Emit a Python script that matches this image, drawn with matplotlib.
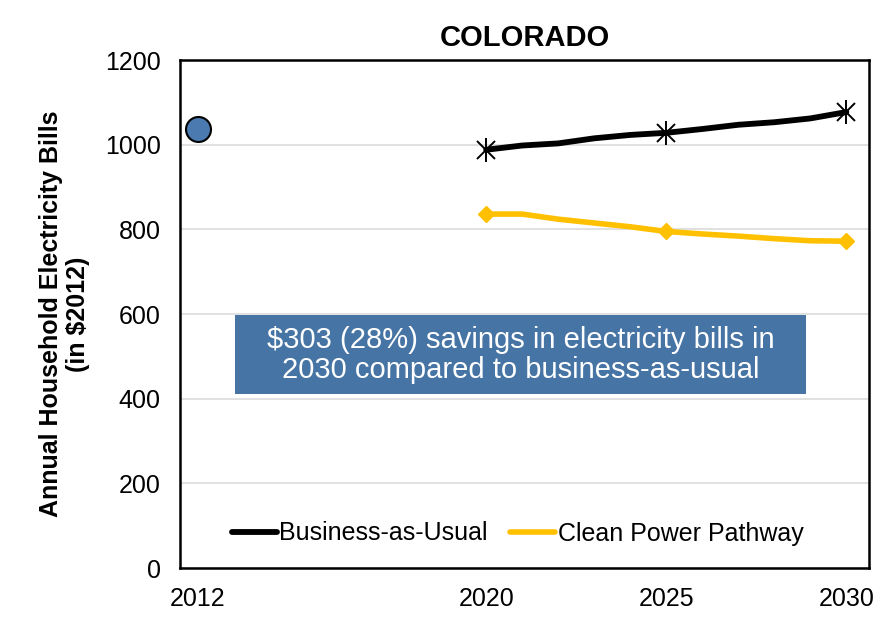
#!/usr/bin/env python3
"""Colorado household electricity bills: business-as-usual vs clean power pathway."""
import matplotlib
matplotlib.use("Agg")
import matplotlib.pyplot as plt
from matplotlib.patches import Rectangle

plt.rcParams["font.family"] = ["Liberation Sans", "DejaVu Sans"]

years = [2020, 2021, 2022, 2023, 2024, 2025, 2026, 2027, 2028, 2029, 2030]
bau = [988, 998, 1003, 1015, 1023, 1028, 1037, 1047, 1053, 1062, 1077]
clean = [836, 836, 824, 815, 806, 795, 789, 784, 778, 773, 772]
marker_years = [2020, 2025, 2030]
year_2012 = 2012
bill_2012 = 1037
xticks = [2012, 2020, 2025, 2030]

fig = plt.figure(figsize=(8.93, 6.25), dpi=100)
ax = fig.add_axes([0.2016, 0.0912, 0.772, 0.8128])

ax.yaxis.grid(True, color="#dcdcdc", linewidth=1.2, zorder=0)
ax.set_axisbelow(True)

ax.plot(years, bau, color="black", linewidth=4.2, solid_capstyle="round", zorder=3,
        label="Business-as-Usual")
ax.plot(years, clean, color="#FFC000", linewidth=4.0, solid_capstyle="round", zorder=3,
        label="Clean Power Pathway")

mb = [bau[years.index(y)] for y in marker_years]
mc = [clean[years.index(y)] for y in marker_years]
ax.plot(marker_years, mb, linestyle="none", marker="x", markersize=13,
        markeredgewidth=1.4, color="black", zorder=4)
ax.plot(marker_years, mb, linestyle="none", marker="|", markersize=17,
        markeredgewidth=1.4, color="black", zorder=4)
ax.plot(marker_years, mc, linestyle="none", marker="D", markersize=8.5,
        color="#FFC000", zorder=4)

ax.plot([year_2012], [bill_2012], linestyle="none", marker="o", markersize=18,
        markerfacecolor="#4a7ab0", markeredgecolor="black", markeredgewidth=1.5, zorder=4)

ax.set_xlim(2011.5, 2030.64)
ax.set_ylim(0, 1200)
ax.set_xticks(xticks)
ax.set_yticks(range(0, 1201, 200))
ax.tick_params(axis="both", labelsize=18, length=0, pad=14)
for s in ax.spines.values():
    s.set_linewidth(1.8)

ax.set_title("COLORADO", fontsize=21, fontweight="bold", pad=10)
ax.set_ylabel("Annual Household Electricity Bills\n(in $2012)", fontsize=18,
              fontweight="bold", labelpad=10.5, linespacing=1.15)

# savings callout box
ax.add_patch(Rectangle((0.0797, 0.3425), 0.829, 0.1555, transform=ax.transAxes,
                       facecolor="#4674a4", edgecolor="none", zorder=5))
ax.text(0.494, 0.420, "$303 (28%) savings in electricity bills in\n2030 compared to business-as-usual",
        transform=ax.transAxes, ha="center", va="center", fontsize=21, color="white",
        linespacing=1.1, zorder=6)

ax.legend(loc="lower center", bbox_to_anchor=(0.49, 0.0), ncol=2, frameon=False,
          fontsize=18, handlelength=1.8, handletextpad=0.1, columnspacing=0.9)

fig.savefig("out.png", dpi=100)
